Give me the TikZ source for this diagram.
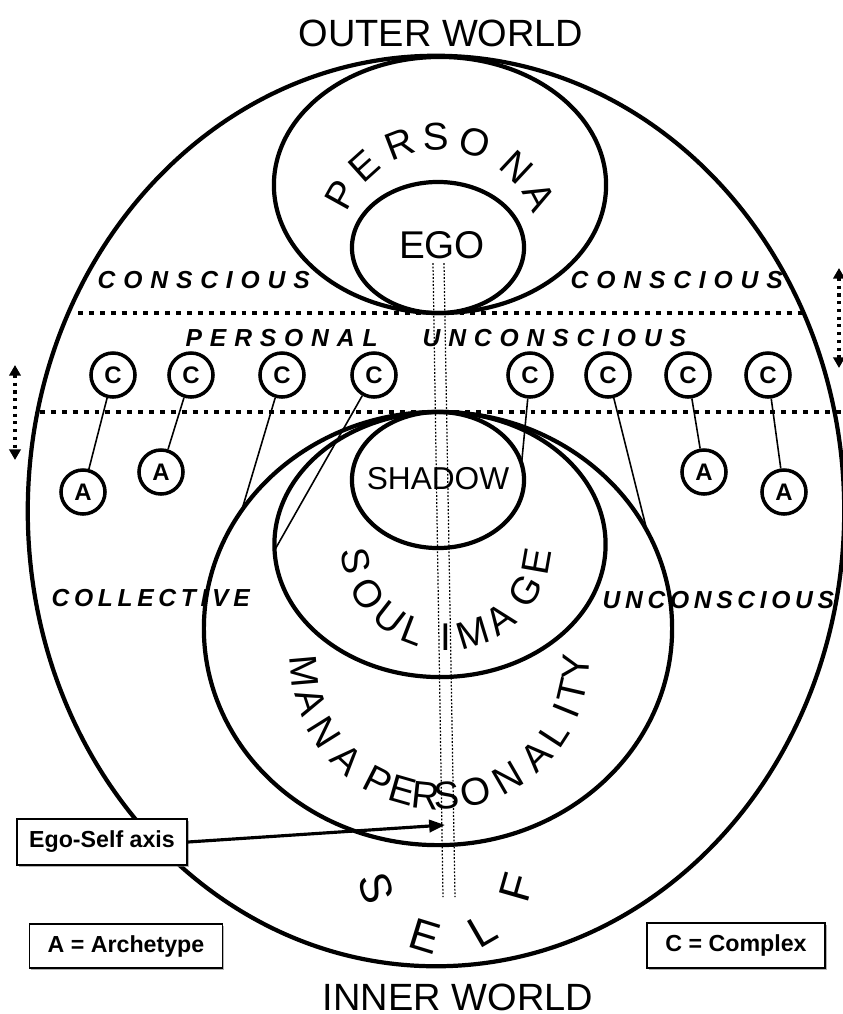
\documentclass[tikz,border=0pt]{standalone}
\usepackage{fontspec}
\setmainfont{Liberation Sans}
\newfontfamily\zoneWide[LetterSpace=32]{Liberation Sans}
\newfontfamily\zoneNarrow[LetterSpace=19]{Liberation Sans}
\usetikzlibrary{arrows.meta, positioning, shapes.geometric, shadows, calc}
\tikzset{
  psyRegion/.style={ellipse, draw=black, line width=1.2pt, inner sep=0pt, outer sep=0pt},
  complexNode/.style={circle, draw=black, line width=1pt, minimum size=0.44cm,
    inner sep=0pt, font=\fontsize{6.8}{7}\selectfont\bfseries},
  archNode/.style={complexNode},
  linkLine/.style={line width=0.45pt},
  levelLine/.style={line width=1.4pt, dash pattern=on 1.4pt off 1.7pt},
  shiftArrow/.style={{Triangle[length=3pt,width=3.2pt]}-{Triangle[length=3pt,width=3.2pt]},
    line width=0.9pt, dash pattern=on 0.9pt off 1.3pt},
  axisLine/.style={line width=0.35pt, dash pattern=on 0.5pt off 0.5pt},
  axisArrow/.style={-{Triangle[length=4.5pt,width=3.5pt]}, line width=0.9pt},
  legendBox/.style={draw=black, line width=0.5pt, fill=white, inner sep=0pt,
    font=\fontsize{6.6}{7}\selectfont\bfseries,
    drop shadow={shadow xshift=0.5pt, shadow yshift=-0.5pt, opacity=0.6}},
  zoneWideLabel/.style={anchor=west, inner sep=0pt,
    font=\zoneWide\fontsize{7}{8}\selectfont\bfseries\itshape},
  zoneNarrowLabel/.style={anchor=west, inner sep=0pt,
    font=\zoneNarrow\fontsize{7}{8}\selectfont\bfseries\itshape},
  worldLabel/.style={inner sep=0pt, font=\fontsize{10.8}{12}\selectfont},
  arcLetter/.style={inner sep=0pt, font=\fontsize{11}{12}\selectfont},
}

\begin{document}
\begin{tikzpicture}[x=0.01cm, y=0.01cm]
  \useasboundingbox (0,0) rectangle (843,-1014);

  % regions of the psyche
  \node[psyRegion, minimum width=8.16cm, minimum height=9.10cm] (self) at (436,-511) {};
  \node[psyRegion, minimum width=3.32cm, minimum height=2.56cm] (persona) at (440,-185) {};
  \node[psyRegion, minimum width=1.72cm, minimum height=1.31cm] (ego) at (438,-247.5) {};
  \node[psyRegion, minimum width=4.68cm, minimum height=4.33cm] (mana) at (438,-628.5) {};
  \node[psyRegion, minimum width=3.31cm, minimum height=2.65cm] (soul) at (440,-544.5) {};
  \node[psyRegion, minimum width=1.72cm, minimum height=1.36cm] (shadow) at (438,-480) {};

  % ego-self axis
  \draw[axisLine] (433,-263) -- (443,-897);
  \draw[axisLine] (444,-263) -- (455,-897);

  % level borders
  \draw[levelLine] (78,-313) -- (803,-313);
  \draw[levelLine] (40,-412) -- (843,-412);
  \draw[shiftArrow] (15,-365) -- (15,-460);
  \draw[shiftArrow] (839,-268) -- (839,-368);

  \node[worldLabel] (outerW) at (441,-33) {OUTER WORLD};
  \node[worldLabel] (innerW) at (458,-997) {INNER WORLD};
  \node[font=\fontsize{11}{12}\selectfont] (egoTxt) at (442,-245) {EGO};
  \node[font=\fontsize{9}{10}\selectfont] (shadowTxt) at (438,-479) {SHADOW};

  \node[zoneWideLabel] (consL) at (97,-280) {CONSCIOUS};
  \node[zoneWideLabel] (consR) at (570,-280) {CONSCIOUS};
  \node[zoneWideLabel] (persU) at (185,-338) {PERSONAL};
  \node[zoneWideLabel] (unconsU) at (422,-338) {UNCONSCIOUS};
  \node[zoneNarrowLabel] (collL) at (51,-598) {COLLECTIVE};
  \node[zoneNarrowLabel] (unconsL) at (602,-600) {UNCONSCIOUS};

  % curved names
  \coordinate (personaArc) at (440,-250);
  \foreach \ch/\ang in {P/151,E/132,R/111,S/92,O/72,N/47,A/28}
    \node[arcLetter, rotate=\ang-90] at ($(personaArc)+(\ang:113)$) {\ch};
  \coordinate (soulArc) at (446,-545);
  \foreach \ch/\ang in {S/190,O/212,U/232,L/249,I/270,M/287,A/306,G/330,E/350}
    \node[arcLetter, rotate=\ang+90] at ($(soulArc)+(\ang:92)$) {\ch};
  \coordinate (manaArc) at (440,-660);
  \foreach \ch/\ang in {M/185,A/198,N/212,A/227,P/243,E/254,R/264,S/273,O/285,N/300,A/315,L/327,I/338,T/347,Y/357}
    \node[arcLetter, rotate=\ang+90] at ($(manaArc)+(\ang:136)$) {\ch};
  \coordinate (selfArc) at (446,-867);
  \foreach \ch/\ang in {S/197,E/253,L/300,F/344}
    \node[arcLetter, font=\fontsize{12.5}{13}\selectfont, rotate=\ang+90] at ($(selfArc)+(\ang:73)$) {\ch};

  % complexes and archetypes
  \foreach \i/\x in {1/113,2/191,3/282,4/374,5/530,6/608,7/688,8/768}
    \node[complexNode] (c\i) at (\x,-375) {C};
  \node[archNode] (a1) at (83,-492) {A};
  \node[archNode] (a2) at (161,-472) {A};
  \node[archNode] (a3) at (704,-472) {A};
  \node[archNode] (a4) at (784,-492) {A};

  \draw[linkLine] (c1) -- (a1);
  \draw[linkLine] (c2) -- (a2);
  \draw[linkLine] (c7) -- (a3);
  \draw[linkLine] (c8) -- (a4);
  \draw[linkLine] (c3) -- (mana.149.7);
  \draw[linkLine] (c4) -- (soul.182);
  \draw[linkLine] (c5) -- (shadow.11.2);
  \draw[linkLine] (c6) -- (mana.25.6);

  % legend
  \node[legendBox, minimum width=1.70cm, minimum height=0.46cm] (esBox) at (102,-842) {Ego-Self axis};
  \node[legendBox, minimum width=1.93cm, minimum height=0.44cm] (archBox) at (126,-946) {A = Archetype};
  \node[legendBox, minimum width=1.78cm, minimum height=0.45cm] (cxBox) at (736,-945.5) {C = Complex};
  \coordinate (axisTip) at (445,-825);
  \draw[axisArrow] (esBox.east) -- (axisTip);
\end{tikzpicture}
\end{document}
